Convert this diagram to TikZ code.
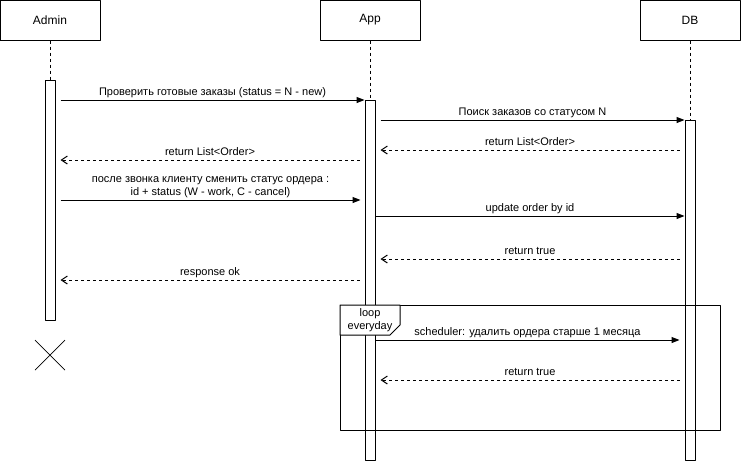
\documentclass[tikz,border=0pt]{standalone}
\usepackage{fontspec}
\setmainfont{Liberation Sans}
\usetikzlibrary{arrows.meta}

\begin{document}
\begin{tikzpicture}[x=1pt,y=-1pt,line join=round,line width=1pt]
	\tikzset{
		actor/.style={draw,fill=white,minimum width=100pt,minimum height=40pt,inner sep=0,font=\fontsize{12}{14}\selectfont},
		bar/.style={draw,fill=white,minimum width=10pt,inner sep=0,anchor=north},
		life/.style={dash pattern=on 3pt off 3pt},
		call/.style={-{Triangle[length=8pt,width=6pt]}},
		ret/.style={dash pattern=on 3pt off 3pt,-{Straight Barb[length=6pt,width=8pt]}},
		lbl/.style={anchor=base,inner sep=0,yshift=5pt,font=\fontsize{11}{13}\selectfont}
	}
	\useasboundingbox (0,0) rectangle (741,461);
	% participants
	\foreach \n/\t/\x in {admin/Admin/50,app/App/370,db/DB/690}
		\node[actor] (\n) at (\x,20) {\t};
	\node[bar,minimum height=240pt] (actA) at (50,80) {};
	\node[bar,minimum height=360pt] (actP) at (370,100) {};
	\node[bar,minimum height=340pt] (actD) at (690,120) {};
	\draw[life] (admin.south) -- (actA.north);
	\draw[life] (app.south) -- (actP.north);
	\draw[life] (db.south) -- (actD.north);
	% rows of the messages
	\foreach \i/\y in {1/100,2/120,3/150,4/160,5/200,6/216,7/259,8/280,9/340,10/380}
		\coordinate (r\i) at (0,\y);
	% messages
	\draw[call] ([xshift=5pt]actA.east |- r1) -- (actP.west |- r1)
		node[lbl,midway] (m1) {Проверить готовые заказы (status = N - new)};
	\draw[call] ([xshift=5pt]actP.east |- r2) -- (actD.west |- r2)
		node[lbl,midway] (m2) {Поиск заказов со статусом N};
	\draw[ret] ([xshift=-5pt]actD.west |- r3) -- ([xshift=5pt]actP.east |- r3)
		node[lbl,midway] (m3) {return List<Order>};
	\draw[ret] ([xshift=-5pt]actP.west |- r4) -- ([xshift=5pt]actA.east |- r4)
		node[lbl,midway] (m4) {return List<Order>};
	\draw[call] ([xshift=5pt]actA.east |- r5) -- ([xshift=-4pt]actP.west |- r5)
		node[lbl,midway,align=center] (m5) {после звонка клиенту сменить статус ордера :\\id + status (W - work, C - cancel)};
	\draw[call] (actP.east |- r6) -- (actD.west |- r6)
		node[lbl,midway] (m6) {update order by id};
	\draw[ret] ([xshift=-5pt]actD.west |- r7) -- ([xshift=5pt]actP.east |- r7)
		node[lbl,midway] (m7) {return true};
	\draw[ret] ([xshift=-5pt]actP.west |- r8) -- ([xshift=5pt]actA.east |- r8)
		node[lbl,midway] (m8) {response ok};
	% loop frame
	\draw (340,305) rectangle (720,430);
	\draw[fill=white] (340,305) -- (400,305) -- (400,325) -- (390,335) -- (340,335) -- cycle;
	\node[align=center,inner sep=0,font=\fontsize{11}{13}\selectfont] (loop) at (370,320.5) {loop\\everyday};
	\draw[call] (actP.east |- r9) -- ([xshift=-5pt]actD.west |- r9)
		node[lbl,midway] (m9) {scheduler: удалить ордера старше 1 месяца};
	\draw[ret] ([xshift=-5pt]actD.west |- r10) -- ([xshift=5pt]actP.east |- r10)
		node[lbl,midway] (m10) {return true};
	% end of admin
	\draw[line width=0.7pt] (35,340) -- (65,370) (35,370) -- (65,340);
\end{tikzpicture}
\end{document}
